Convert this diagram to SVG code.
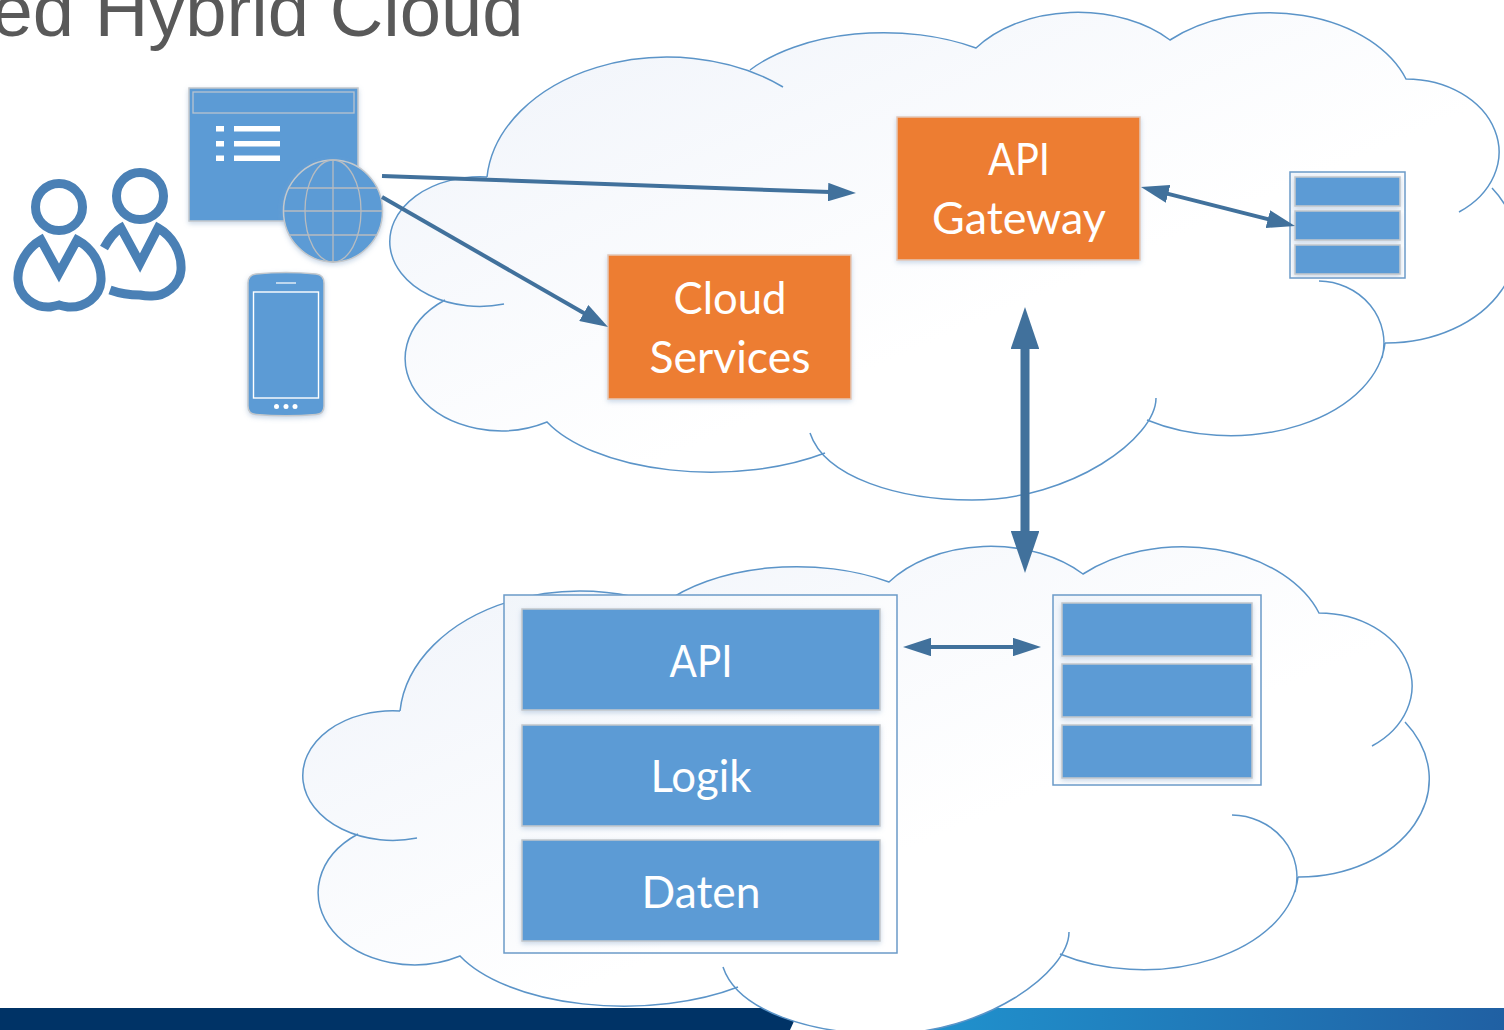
<svg xmlns="http://www.w3.org/2000/svg" xmlns:xlink="http://www.w3.org/1999/xlink" width="1504" height="1030" viewBox="0 0 1504 1030">
<style>
.t{font-family:"Lato","Noto Sans",sans-serif;font-size:45px;fill:#fff;text-anchor:middle}
.or{fill:#ed7d31;stroke:#e3c8b8;stroke-width:1.5;filter:url(#sh)}
.bl{fill:#5b9bd5;stroke:#c4c8cc;stroke-width:1.5;filter:url(#sh)}
.fr{fill:url(#fg);stroke:#6b9ac8;stroke-width:1.5}
.cl{fill:none;stroke:#5b94c8;stroke-width:1.5}
.con{fill:none;stroke:#41719c;stroke-width:4}
.pp{fill:none;stroke:#4a80b5;stroke-width:9;stroke-linejoin:miter}
.gl{fill:none;stroke:#b8bcc0;stroke-width:1.3}
.wh{fill:#fff}
</style>
<defs>
<linearGradient id="cg" x1="0" y1="0" x2="1" y2="1">
<stop offset="0" stop-color="#eff3fa"/><stop offset=".58" stop-color="#fff"/><stop offset="1" stop-color="#fff"/>
</linearGradient>
<linearGradient id="fg" x1="0" y1="0" x2="1" y2="1">
<stop offset="0" stop-color="#f1f5fa"/><stop offset=".7" stop-color="#fff"/>
</linearGradient>
<linearGradient id="bar" gradientUnits="userSpaceOnUse" x1="950" y1="0" x2="1504" y2="0">
<stop offset="0" stop-color="#2090cc"/><stop offset="1" stop-color="#2060a3"/>
</linearGradient>
<filter id="sh" x="-10%" y="-10%" width="120%" height="125%"><feDropShadow dx="0" dy="2" stdDeviation="2.5" flood-color="#8aa8cc" flood-opacity=".45"/></filter>
<marker id="a" markerUnits="strokeWidth" markerWidth="7" markerHeight="4.6" refX=".5" refY="2.3" orient="auto-start-reverse"><path d="M0,0L7,2.3L0,4.6z" fill="#41719c"/></marker>
<marker id="b" markerUnits="strokeWidth" markerWidth="4.7" markerHeight="3.2" refX=".2" refY="1.6" orient="auto-start-reverse"><path d="M0,0L4.7,1.6L0,3.2z" fill="#41719c"/></marker>
<path id="cf" d="M487,177A181,130 0 0 1 783,87L750,70A165,90 0 0 1 976,48A125,85 0 0 1 1170,40A145,100 0 0 1 1406,79A93,73 0 0 1 1459,212L1492,188A130,98 0 0 1 1385,343L1319,281A66,62 0 0 1 1382,358L1385,343A155,100 0 0 1 1147,420L1156,398C1156,438 1072,500 972,500C900,500 825,478 810,433L825,453A180,85 0 0 1 547,422A96,72.2 0 0 1 445,300L504,304A90,64.8 0 1 1 487,177Z" fill="url(#cg)"/>
<path id="cs" class="cl" d="M487,177A181,130 0 0 1 783,87M750,70A165,90 0 0 1 976,48A125,85 0 0 1 1170,40A145,100 0 0 1 1406,79A93,73 0 0 1 1459,212M1492,188A130,98 0 0 1 1385,343M1319,281A66,62 0 0 1 1382,358M1385,343A155,100 0 0 1 1147,420M1156,398C1156,438 1072,500 972,500C900,500 825,478 810,433M825,453A180,85 0 0 1 547,422A96,72.2 0 0 1 445,300M504,304A90,64.8 0 1 1 487,177"/>
</defs>
<rect width="1504" height="1030" fill="#fff"/>
<g id="footer">
<rect x="880" y="1008" width="624" height="22" fill="url(#bar)"/>
<path d="M0,1008H800L790,1030H0z" fill="#003366"/>
</g>
<text id="title" x="523.500" y="36" text-anchor="end" font-family="Liberation Sans,Arial,sans-serif" font-size="74.200" fill="#595959">ed Hybrid Cloud</text>
<g id="cloud-top"><use href="#cf"/><use href="#cs"/></g>
<g id="cloud-bottom" transform="translate(-87,534)"><use href="#cf"/><use href="#cs"/></g>
<g id="users">
<circle cx="59" cy="207" r="23.5" class="pp"/>
<path class="pp" d="M41,240L59,273L77,240C92,248 102,264 101,281C100,297 85,308 68,307Q62,306 59,305Q55,306 50,307C35,308 19,297 18,280C17,265 27,248 41,240Z"/>
<circle cx="140" cy="196" r="23.5" class="pp"/>
<path class="pp" d="M104,248C109,239 114,232 121,228L140,263L158,228C172,236 182,252 181,270C180,285 165,297 150,296Q145,296 140,295Q124,295 110,290"/>
</g>
<g id="browser">
<rect x="189" y="88" width="169" height="133" class="bl"/>
<rect x="193" y="92" width="161" height="21" fill="none" stroke="#b8c4d0" stroke-width="1.3"/>
<path class="wh" d="M216,126h8v5.5h-8zM234,126h46v5.5h-46zM216,141h8v5.5h-8zM234,141h46v5.5h-46zM216,155.5h8v5.5h-8zM234,155.5h46v5.5h-46z"/>
</g>
<g id="globe">
<ellipse cx="333" cy="211" rx="49.5" ry="51" class="bl"/>
<ellipse cx="333" cy="211" rx="28" ry="51" class="gl"/>
<path class="gl" d="M333,160V262M284,211H382M289,188H377M289,235H377"/>
</g>
<g id="phone">
<path d="M256,274Q286,271 316,274Q324,275 324,283V406Q324,414 316,414.500Q286,417 256,414.500Q248,414 248,406V283Q248,275 256,274Z" class="bl"/>
<rect x="253.5" y="292" width="65" height="106" fill="none" stroke="#fff" stroke-width="1.4"/>
<path d="M276,283H296" stroke="#fff" stroke-width="1.2"/>
<circle cx="276.5" cy="406.500" r="2.500" class="wh"/><circle cx="286" cy="406.500" r="2.500" class="wh"/><circle cx="295" cy="406.500" r="2.500" class="wh"/>
</g>
<g id="api-gateway">
<rect x="897" y="117" width="243" height="143" class="or"/>
<text class="t" x="1019" y="175" textLength="62" lengthAdjust="spacingAndGlyphs">API</text><text class="t" x="1019" y="234" textLength="174" lengthAdjust="spacingAndGlyphs">Gateway</text>
</g>
<g id="cloud-services">
<rect x="608" y="255" width="243" height="144" class="or"/>
<text class="t" x="730" y="314" textLength="113" lengthAdjust="spacingAndGlyphs">Cloud</text><text class="t" x="730" y="373" textLength="161" lengthAdjust="spacingAndGlyphs">Services</text>
</g>
<g id="gateway-store">
<rect x="1290" y="172" width="115" height="106" class="fr"/>
<rect x="1295" y="177" width="105" height="29" class="bl"/>
<rect x="1295" y="211" width="105" height="29" class="bl"/>
<rect x="1295" y="245" width="105" height="29" class="bl"/>
</g>
<g id="app-stack">
<rect x="504" y="595" width="393" height="358" class="fr"/>
<rect x="522" y="609" width="358" height="101" class="bl"/>
<rect x="522" y="725" width="358" height="101" class="bl"/>
<rect x="522" y="840" width="358" height="101" class="bl"/>
<text class="t" x="701" y="677" textLength="63" lengthAdjust="spacingAndGlyphs">API</text><text class="t" x="701" y="792" textLength="101" lengthAdjust="spacingAndGlyphs">Logik</text><text class="t" x="701" y="908" textLength="119" lengthAdjust="spacingAndGlyphs">Daten</text>
</g>
<g id="data-store">
<rect x="1053" y="595" width="208" height="190" class="fr"/>
<rect x="1062" y="603" width="190" height="53" class="bl"/>
<rect x="1062" y="664" width="190" height="53" class="bl"/>
<rect x="1062" y="725" width="190" height="53" class="bl"/>
</g>
<g id="connectors">
<path class="con" d="M382,176L830,192.100" marker-end="url(#a)"/>
<path class="con" d="M382,197L585.500,314" marker-end="url(#a)"/>
<path class="con" d="M1166.200,193.400L1269.800,219.600" marker-start="url(#a)" marker-end="url(#a)"/>
<path class="con" d="M929,647H1015" marker-start="url(#a)" marker-end="url(#a)"/>
<path class="con" style="stroke-width:9" d="M1025,347.500V532.500" marker-start="url(#b)" marker-end="url(#b)"/>
</g>
</svg>
